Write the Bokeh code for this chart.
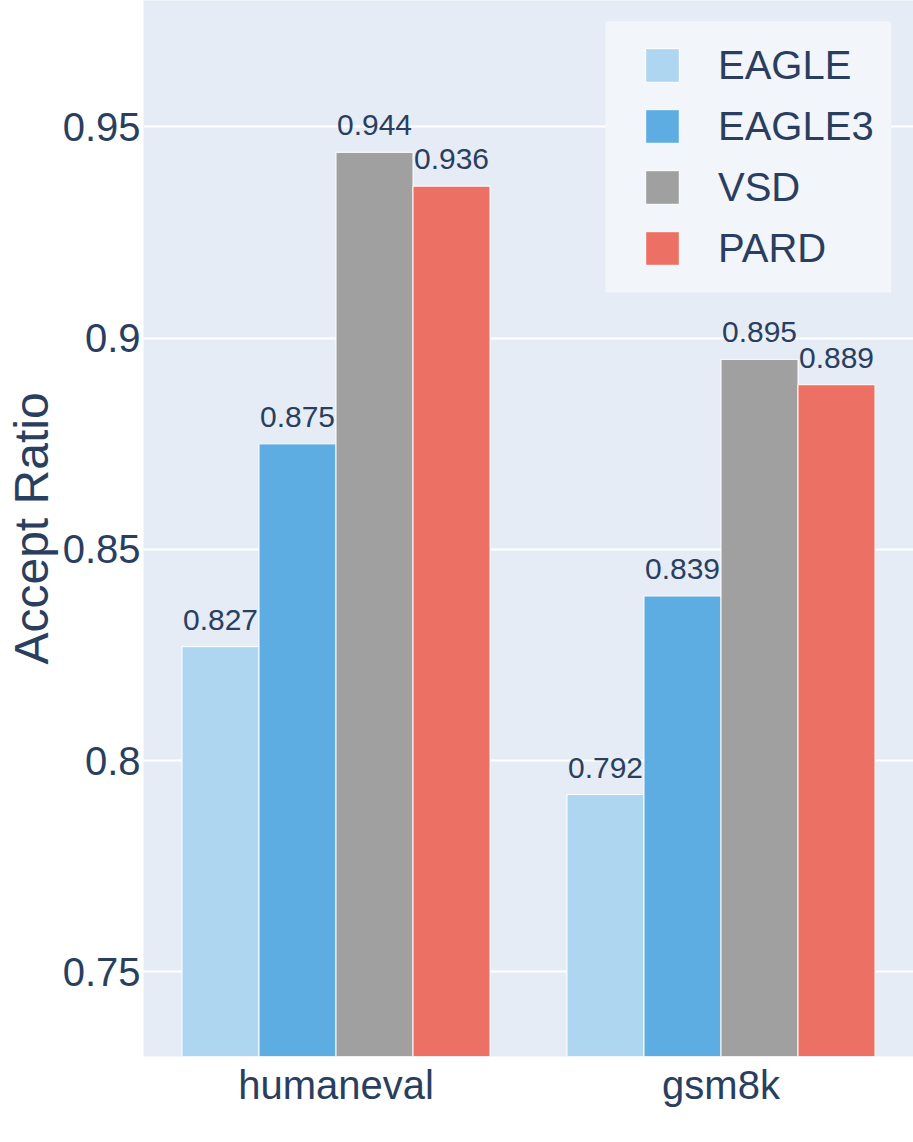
from bokeh.plotting import figure
from bokeh.models import (ColumnDataSource, FactorRange, Range1d, FixedTicker,
                          Legend, LegendItem, BoxAnnotation)
from bokeh.transform import dodge
from bokeh.core.properties import value
from bokeh.embed import file_html
from bokeh.resources import INLINE

datasets = ["humaneval", "gsm8k"]
methods = ["EAGLE", "EAGLE3", "VSD", "PARD"]
eagle = [0.827, 0.792]
eagle3 = [0.875, 0.839]
vsd = [0.944, 0.895]
pard = [0.936, 0.889]
colors = ["#AED6F1", "#5DADE2", "#A0A0A0", "#EC7063"]
y_ticks = [0.75, 0.8, 0.85, 0.9, 0.95]
y_tick_labels = ["0.75", "0.8", "0.85", "0.9", "0.95"]
y_title = "Accept Ratio"

FONT = "Liberation Sans"
TXT = "#2a3f5f"

series = [eagle, eagle3, vsd, pard]
src = ColumnDataSource(dict(
    ds=datasets,
    **{m: v for m, v in zip(methods, series)},
    **{m + "_lbl": ["%.3f" % x for x in v] for m, v in zip(methods, series)},
))

p = figure(x_range=FactorRange(*datasets, range_padding=0),
           y_range=Range1d(0.7300, 0.97994),
           width=913, height=1142, output_backend="svg", toolbar_location=None,
           min_border_left=143, min_border_right=0, min_border_top=0,
           min_border_bottom=86)
p.background_fill_color = "#E5ECF6"
p.outline_line_color = None
p.border_fill_color = "white"

offsets = [-0.3, -0.1, 0.1, 0.3]
renderers = []
for m, c, off in zip(methods, colors, offsets):
    r = p.vbar(x=dodge("ds", off, range=p.x_range), top=m, bottom=0.7, width=0.2,
               source=src, fill_color=c, line_color="white", line_width=1)
    renderers.append(r)
    p.text(x=dodge("ds", off, range=p.x_range), y=m, text=m + "_lbl", source=src,
           text_align="center", text_baseline="alphabetic", y_offset=-27,
           text_font=value(FONT), text_font_size="30px", text_color=TXT)

p.xgrid.visible = False
p.ygrid.grid_line_color = "white"
p.ygrid.grid_line_width = 2

p.yaxis.ticker = FixedTicker(ticks=y_ticks)
p.yaxis.major_label_overrides = {t: l for t, l in zip(y_ticks, y_tick_labels)}
p.yaxis.axis_label = y_title
p.yaxis.axis_label_text_font = FONT
p.yaxis.axis_label_text_font_size = "48px"
p.yaxis.axis_label_text_font_style = "normal"
p.yaxis.axis_label_text_color = TXT
p.yaxis.axis_label_standoff = 2

for ax in (p.xaxis, p.yaxis):
    ax.axis_line_color = None
    ax.major_tick_line_color = None
    ax.minor_tick_line_color = None
    ax.major_tick_out = 0
    ax.major_tick_in = 0
    ax.minor_tick_out = 0
    ax.minor_tick_in = 0
    ax.major_label_text_font = FONT
    ax.major_label_text_font_size = "40px"
    ax.major_label_text_color = TXT
p.yaxis.major_label_standoff = 3
p.xaxis.major_label_standoff = 6

# legend background box
p.add_layout(BoxAnnotation(left=1.2, right=1.942, top=0.97504, bottom=0.91083,
                           fill_color="#F2F5FA", fill_alpha=1.0, line_color=None,
                           level="annotation"))

legend = Legend(items=[LegendItem(label=m, renderers=[r]) for m, r in zip(methods, renderers)],
                location=(498, 778), padding=10, margin=0, spacing=1,
                glyph_width=42, glyph_height=42, label_height=60, label_standoff=35,
                label_text_font=FONT, label_text_font_size="40px", label_text_color=TXT,
                background_fill_alpha=0, border_line_color=None)
p.add_layout(legend)

open("out.html", "w").write(file_html(p, INLINE))
